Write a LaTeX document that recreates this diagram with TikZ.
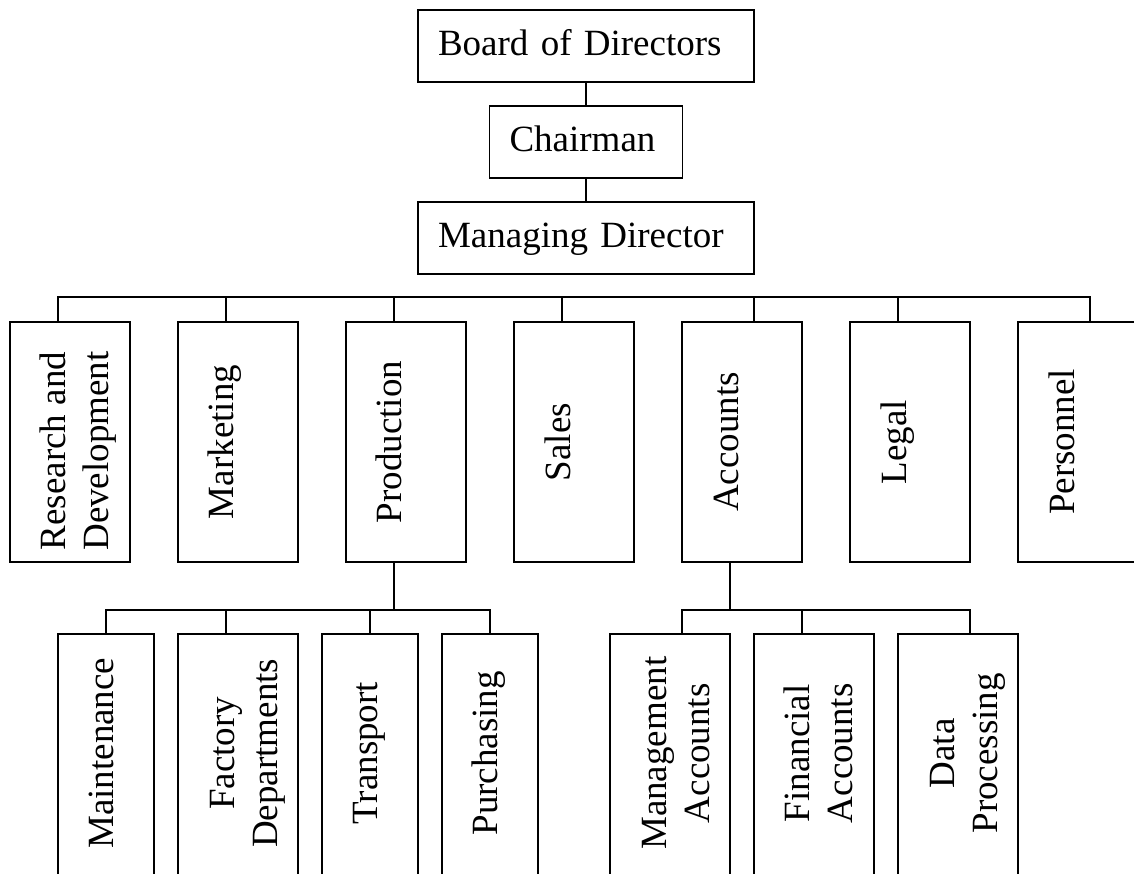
\documentclass[tikz,border=0pt]{standalone}
\usepackage{fontspec}
\setmainfont{Liberation Serif}
\begin{document}
\begin{tikzpicture}[x=1pt,y=-1pt,
  line width=1.5pt,
  every node/.style={font=\fontsize{37}{43}\selectfont},
  topbox/.style={draw, rectangle, minimum height=72pt, inner xsep=20pt,
    inner ysep=0pt, text height=26pt, text depth=7pt, align=left},
  dept/.style={draw, rectangle, minimum width=120pt, minimum height=240pt,
    inner sep=0pt},
  sect/.style={dept, minimum height=280pt},
  narrow/.style={sect, minimum width=96pt},
  vlabel/.style={rotate=90, anchor=base, inner sep=0pt},
]
\useasboundingbox (0,0) rectangle (1134,873);
\clip (0,0) rectangle (1134,873);

% chain of command
\node[topbox, text width=296pt] (board) at (586,46)  {Board of Directors};
\node[topbox, text width=153pt] (chair) at (586,142) {Chairman};
\node[topbox, text width=296pt] (md)    at (586,238) {Managing Director};
\draw (board) -- (chair);
\draw (chair) -- (md);

% departments
\node[dept] (rd)    at (70,442)   {};
\node[dept] (mkt)   at (238,442)  {};
\node[dept] (prod)  at (406,442)  {};
\node[dept] (sales) at (574,442)  {};
\node[dept] (acc)   at (742,442)  {};
\node[dept] (legal) at (910,442)  {};
\node[dept] (pers)  at (1078,442) {};

\node[vlabel] (rdT)    at ([xshift=56pt,yshift=-9pt]rd.west)
  {\begin{tabular}[t]{@{}c@{}}Research and\\Development\end{tabular}};
\node[vlabel] (mktT)   at ([xshift=56pt]mkt.west)   {Marketing};
\node[vlabel] (prodT)  at ([xshift=56pt]prod.west)  {Production};
\node[vlabel] (salesT) at ([xshift=57pt]sales.west) {Sales};
\node[vlabel] (accT)   at ([xshift=57pt]acc.west)   {Accounts};
\node[vlabel] (legalT) at ([xshift=57pt]legal.west) {Legal};
\node[vlabel] (persT)  at ([xshift=57pt]pers.west)  {Personnel};

% department bus
\coordinate (d1) at (58,297);
\coordinate (d2) at (226,297);
\coordinate (d3) at (394,297);
\coordinate (d4) at (562,297);
\coordinate (d5) at (754,297);
\coordinate (d6) at (898,297);
\coordinate (d7) at (1090,297);
\draw (d1 |- rd.north) -- (d1) -- (d7) -- (d7 |- pers.north);
\draw (d2) -- (d2 |- mkt.north);
\draw (d3) -- (d3 |- prod.north);
\draw (d4) -- (d4 |- sales.north);
\draw (d5) -- (d5 |- acc.north);
\draw (d6) -- (d6 |- legal.north);

% production sections (boxes run past the lower edge)
\node[narrow] (maint) at (106,774) {};
\node[sect]   (fact)  at (238,774) {};
\node[narrow] (trans) at (370,774) {};
\node[narrow] (purch) at (490,774) {};

\node[vlabel] (maintT) at ([xshift=56pt,yshift=-120pt]maint.north west) {Maintenance};
\node[vlabel] (factT)  at ([xshift=57pt,yshift=-120pt]fact.north west)
  {\begin{tabular}[t]{@{}c@{}}Factory\\Departments\end{tabular}};
\node[vlabel] (transT) at ([xshift=56pt,yshift=-120pt]trans.north west) {Transport};
\node[vlabel] (purchT) at ([xshift=56pt,yshift=-120pt]purch.north west) {Purchasing};

\coordinate (pj) at (394,610);
\coordinate (s1) at (106,610);
\coordinate (s2) at (226,610);
\coordinate (s3) at (370,610);
\coordinate (s4) at (490,610);
\draw (pj |- prod.south) -- (pj);
\draw (s1 |- maint.north) -- (s1) -- (s4) -- (s4 |- purch.north);
\draw (s2) -- (s2 |- fact.north);
\draw (s3) -- (s3 |- trans.north);

% accounts sections
\node[sect] (mgmt) at (670,774) {};
\node[sect] (fin)  at (814,774) {};
\node[sect] (dp)   at (958,774) {};

\node[vlabel] (mgmtT) at ([xshift=57pt,yshift=-120pt]mgmt.north west)
  {\begin{tabular}[t]{@{}c@{}}Management\\Accounts\end{tabular}};
\node[vlabel] (finT)  at ([xshift=56pt,yshift=-120pt]fin.north west)
  {\begin{tabular}[t]{@{}c@{}}Financial\\Accounts\end{tabular}};
\node[vlabel] (dpT)   at ([xshift=57pt,yshift=-120pt]dp.north west)
  {\begin{tabular}[t]{@{}c@{}}Data\\Processing\end{tabular}};

\coordinate (aj) at (730,610);
\coordinate (t1) at (682,610);
\coordinate (t2) at (802,610);
\coordinate (t3) at (970,610);
\draw (aj |- acc.south) -- (aj);
\draw (t1 |- mgmt.north) -- (t1) -- (t3) -- (t3 |- dp.north);
\draw (t2) -- (t2 |- fin.north);
\end{tikzpicture}
\end{document}
